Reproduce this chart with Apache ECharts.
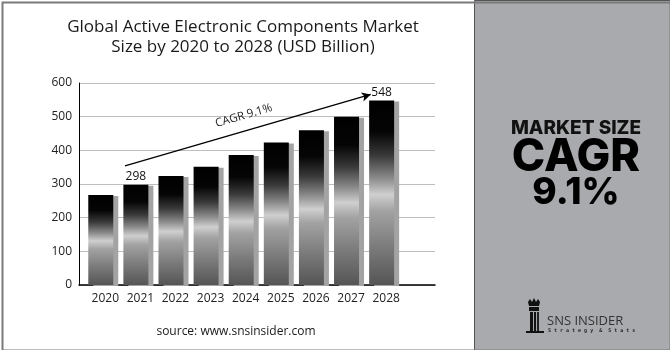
<!DOCTYPE html>
<html>
<head>
<meta charset="utf-8">
<script src="https://cdn.jsdelivr.net/npm/echarts@6/dist/echarts.min.js"></script>
<style>
  html, body { margin: 0; padding: 0; background: #fff; }
  #chart { width: 670px; height: 350px; }
</style>
</head>
<body>
<div id="chart"></div>
<script>
// market size per year (USD billion)
const years = [2020, 2021, 2022, 2023, 2024, 2025, 2026, 2027, 2028];
const values = [267, 298, 324, 351, 386, 423, 460, 500, 548];
const labelledYears = [2021, 2028];
const yTicks = [0, 100, 200, 300, 400, 500, 600];
const cagrText = 'CAGR 9.1%';
// arrow drawn above the bars, in data units
const arrowStart = [2020.69, 354];
const arrowEnd = [2027.69, 566];

const chart = echarts.init(document.getElementById('chart'));

const barFill = new echarts.graphic.LinearGradient(0, 0, 0, 1, [
  { offset: 0, color: '#000000' },
  { offset: 0.17, color: '#050505' },
  { offset: 0.3, color: '#3a3a3a' },
  { offset: 0.42, color: '#8a8a8a' },
  { offset: 0.51, color: '#cfcfcf' },
  { offset: 0.6, color: '#a2a2a2' },
  { offset: 0.8, color: '#7a7a7a' },
  { offset: 1, color: '#555555' }
]);

const fontMain = '"Open Sans", "DejaVu Sans", sans-serif';

chart.setOption({
  animation: false,
  backgroundColor: '#ffffff',
  title: {
    text: 'Global Active Electronic Components Market\nSize by 2020 to 2028 (USD Billion)',
    left: 238,
    top: 12,
    textAlign: 'center',
    textStyle: { fontFamily: fontMain, fontSize: 17, fontWeight: 500, color: '#1a1a1a', lineHeight: 20 }
  },
  grid: { left: 79, top: 83, width: 356, height: 202 },
  xAxis: {
    type: 'value',
    min: 2019.38,
    max: 2029.52,
    splitLine: { show: false },
    axisTick: { show: false },
    axisLine: { show: true, lineStyle: { color: '#000', width: 1.5 } },
    axisLabel: {
      customValues: years,
      formatter: v => String(v),
      color: '#222',
      fontSize: 12,
      fontFamily: fontMain,
      margin: 8,
      padding: [0, 0, 0, 9]
    }
  },
  yAxis: {
    type: 'value',
    min: yTicks[0],
    max: yTicks[yTicks.length - 1],
    interval: 100,
    axisLine: { show: true, lineStyle: { color: '#000', width: 1 } },
    axisTick: { show: false },
    splitLine: { lineStyle: { color: '#bdbdbd', width: 1 } },
    axisLabel: { color: '#222', fontSize: 12, fontFamily: fontMain, margin: 7 }
  },
  series: [{
    type: 'bar',
    barWidth: 25,
    data: years.map((y, i) => ({
      value: [y, values[i]],
      label: { show: labelledYears.includes(y) }
    })),
    itemStyle: {
      color: barFill,
      shadowColor: '#a3a3a3',
      shadowOffsetX: 5,
      shadowOffsetY: 1,
      shadowBlur: 0
    },
    label: {
      position: 'top',
      distance: 2,
      color: '#111',
      fontSize: 12,
      fontFamily: fontMain,
      formatter: p => p.value[1]
    },
    markLine: {
      silent: true,
      symbol: ['none', 'arrow'],
      symbolSize: [7, 9],
      lineStyle: { color: '#000', width: 1.3, type: 'solid' },
      label: {
        show: true,
        position: 'insideMiddleTop',
        formatter: cagrText,
        color: '#222',
        fontSize: 11.5,
        fontFamily: fontMain,
        distance: 9
      },
      data: [[{ coord: arrowStart }, { coord: arrowEnd }]]
    }
  }],
  graphic: [
    {
      type: 'rect', left: 474, top: 0, z: -1,
      shape: { width: 196, height: 350 },
      style: { fill: '#a9aaad', stroke: '#555', lineWidth: 1 }
    },
    {
      type: 'rect', left: 0, top: 0, z: 10,
      shape: { x: 1, y: 1, width: 668, height: 348 },
      style: { fill: 'none', stroke: '#7a7a7a', lineWidth: 2 }
    },
    {
      type: 'text', x: 576, y: 128,
      style: {
        text: 'MARKET SIZE', fill: '#111', align: 'center', verticalAlign: 'middle',
        font: '800 19px Inter, "Open Sans", sans-serif'
      }
    },
    {
      type: 'text', x: 576, y: 157,
      style: {
        text: 'CAGR', fill: '#000', align: 'center', verticalAlign: 'middle',
        font: '800 45px Inter, "Open Sans", sans-serif'
      }
    },
    {
      type: 'text', x: 576, y: 193,
      style: {
        text: '9.1%', fill: '#000', align: 'center', verticalAlign: 'middle',
        font: '800 37px Inter, "Open Sans", sans-serif'
      }
    },
    {
      type: 'text', x: 236, y: 332,
      style: {
        text: 'source: www.snsinsider.com', fill: '#1a1a1a', align: 'center', verticalAlign: 'middle',
        font: '500 12px "Open Sans", sans-serif'
      }
    },
    // SNS insider logo
    {
      type: 'group', x: 526, y: 298,
      children: [
        { type: 'polygon', shape: { points: [[2, 4], [4, 1], [6, 4], [8, 0], [10, 4], [12, 1], [14, 4], [13, 8], [3, 8]] }, style: { fill: '#111' } },
        { type: 'rect', shape: { x: 3, y: 9, width: 10, height: 4 }, style: { fill: '#111' } },
        { type: 'rect', shape: { x: 4, y: 14, width: 3, height: 20 }, style: { fill: '#111' } },
        { type: 'rect', shape: { x: 8, y: 14, width: 2, height: 20 }, style: { fill: '#111' } },
        { type: 'rect', shape: { x: 11, y: 14, width: 2, height: 20 }, style: { fill: '#222' } },
        { type: 'rect', shape: { x: 0, y: 33, width: 18, height: 2 }, style: { fill: '#111' } }
      ]
    },
    {
      type: 'text', x: 547, y: 321,
      style: {
        text: 'SNS INSIDER', fill: '#333', align: 'left', verticalAlign: 'middle',
        font: '400 13px "Open Sans", sans-serif'
      }
    },
    {
      type: 'text', x: 548, y: 331,
      style: {
        text: 'S t r a t e g y  &  S t a t s', fill: '#222', align: 'left', verticalAlign: 'middle',
        font: '700 5px "DejaVu Sans Mono", monospace'
      }
    }
  ]
});
</script>
</body>
</html>
